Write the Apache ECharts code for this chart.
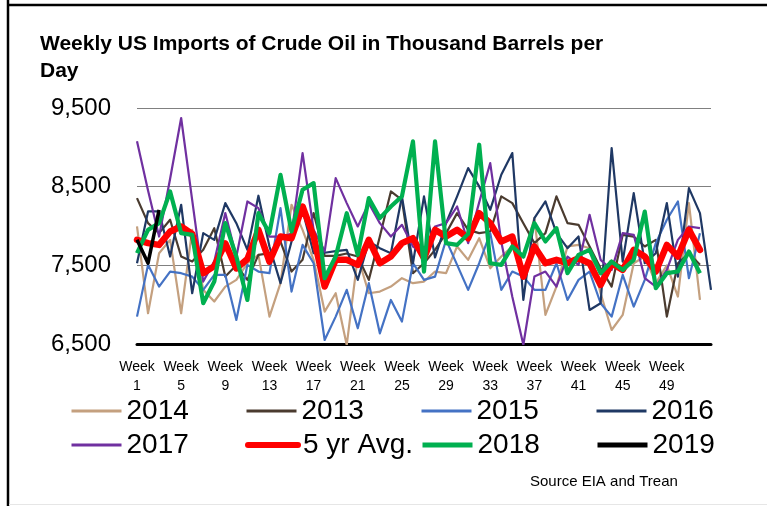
<!DOCTYPE html>
<html>
<head>
<meta charset="utf-8">
<script src="https://cdn.jsdelivr.net/npm/echarts@6/dist/echarts.min.js"></script>
<style>
  html, body { margin: 0; padding: 0; background: #fff; }
  #chart { width: 767px; height: 506px; }
</style>
</head>
<body>
<div id="chart"></div>
<script>
// week numbers on the category axis (53 weeks)
const weeks = []
for (let i = 1; i <= 53; i++) weeks.push('Week\n' + i)

const yTicks = [6500, 7500, 8500, 9500]

const y2014 = [7994, 6891, 7654, 7824, 6891, 7951, 7188, 7040, 7230, 7315, 7527, 7633, 6848, 7273, 8270, 7951, 7570, 6912, 7145, 6487, 7612, 7145, 7166, 7230, 7336, 7273, 7294, 7421, 7400, 7740, 7570, 7845, 7463, 7612, 7740, 7600, 8100, 6869, 7230, 7740, 7760, 7718, 7145, 6678, 6869, 7527, 7612, 7273, 7500, 7103, 8291, 7060]
const y2013 = [8354, 8036, 7909, 8079, 7612, 7548, 7697, 7972, 7357, 7500, 7315, 7633, 7654, 7800, 7421, 7570, 8164, 7620, 7620, 7650, 7612, 7315, 7866, 8439, 8333, 7400, 7527, 7697, 7909, 8164, 7951, 7909, 7930, 8376, 8291, 8036, 7782, 7909, 8376, 8036, 8015, 7740, 7463, 7230, 7888, 7866, 7740, 7824, 6848, 7527, 7654, 7506]
const y2015 = [6848, 7506, 7230, 7421, 7400, 7357, 7188, 7378, 7378, 6806, 7506, 7421, 7400, 8227, 7166, 7760, 7527, 6551, 6848, 7188, 6700, 7273, 6636, 7060, 6785, 7527, 7315, 7357, 7824, 7506, 7188, 7527, 7909, 7188, 7421, 7357, 7188, 7188, 7527, 7060, 7315, 7421, 7018, 6848, 7378, 6976, 7315, 7782, 8079, 8312, 7336, 7909]
const y2016 = [7527, 8185, 8185, 7612, 8270, 7145, 7909, 7824, 8291, 8036, 7697, 8385, 7740, 7273, 7803, 8200, 7654, 7660, 7680, 7697, 7315, 7803, 7718, 7654, 8376, 7527, 8376, 7600, 8036, 8376, 8736, 8503, 8206, 8651, 8927, 7060, 8100, 8312, 7909, 7718, 7866, 6933, 7018, 8991, 7548, 8418, 7527, 7654, 8291, 7357, 8482, 8164, 7188]
const y2017 = [9076, 8450, 7866, 8600, 9373, 8330, 7294, 7550, 8164, 7610, 8312, 8227, 7866, 7866, 7900, 8927, 7951, 7676, 8609, 8291, 7994, 8291, 8036, 7866, 8015, 7740, 7650, 7994, 8036, 8248, 7782, 8300, 8800, 7800, 7100, 6490, 7357, 7421, 7230, 7612, 7506, 8142, 7570, 7442, 7909, 7888, 7336, 7230, 7442, 7824, 7994, 7972]
const avg5 = [7824, 7782, 7760, 7930, 7994, 7900, 7400, 7490, 7780, 7460, 7580, 7951, 7548, 7866, 7845, 8248, 7866, 7230, 7570, 7570, 7506, 7824, 7527, 7612, 7782, 7845, 7590, 7951, 7866, 7951, 7845, 8163, 8036, 7803, 7866, 7357, 7740, 7527, 7570, 7527, 7590, 7527, 7251, 7527, 7442, 7697, 7612, 7421, 7760, 7612, 7951, 7697]
const y2018 = [7654, 7951, 8036, 8439, 7909, 7888, 7018, 7294, 8036, 7612, 7060, 8163, 7909, 8651, 7930, 8460, 8545, 7336, 7612, 8163, 7633, 8354, 8100, 8248, 8376, 9076, 7421, 9076, 7782, 7760, 7900, 9033, 7527, 7506, 7740, 7612, 8036, 7803, 7972, 7400, 7633, 7697, 7400, 7548, 7442, 7570, 8184, 7209, 7400, 7421, 7676, 7400]
const y2019 = [7824, 7527, 8206]

const FONT = '"Liberation Sans", Arial, sans-serif'

const lineSeries = (name, data, color, width, z, cap) => ({
  name,
  type: 'line',
  data,
  symbol: 'none',
  z,
  lineStyle: { color, width, cap: cap || 'butt', join: 'round' },
  itemStyle: { color },
})

// one legend per entry so the entries sit in fixed columns like the original
const legendItem = (name, width, left, top) => ({
  data: [{ name, lineStyle: { width } }],
  left,
  top,
  padding: 0,
  itemWidth: 50,
  itemHeight: 14,
  selectedMode: false,
  itemStyle: { opacity: 0 },
  textStyle: { fontFamily: FONT, fontSize: 28, color: '#000' },
})

const chart = echarts.init(document.getElementById('chart'))

chart.setOption({
  animation: false,
  backgroundColor: '#fff',
  title: {
    text: 'Weekly US Imports of Crude Oil in Thousand Barrels per\nDay',
    left: 40,
    top: 31,
    padding: 0,
    textStyle: { fontFamily: FONT, fontSize: 21, fontWeight: 'bold', color: '#000', lineHeight: 27 },
  },
  grid: { left: 137, right: 56, top: 108, bottom: 162 },
  xAxis: {
    type: 'category',
    data: weeks,
    boundaryGap: false,
    axisTick: { show: false },
    axisLine: { lineStyle: { color: '#000', width: 3 } },
    axisLabel: {
      interval: (i) => i % 4 === 0 && i < 52,
      margin: 14,
      fontFamily: FONT,
      fontSize: 14,
      lineHeight: 19,
      color: '#000',
    },
    splitLine: { show: false },
  },
  yAxis: {
    type: 'value',
    min: yTicks[0],
    max: yTicks[yTicks.length - 1],
    interval: 1000,
    axisLine: { show: false },
    axisTick: { show: false },
    axisLabel: {
      margin: 26,
      fontFamily: FONT,
      fontSize: 24,
      color: '#000',
      formatter: (v) => v.toLocaleString('en-US'),
    },
    splitLine: { lineStyle: { color: '#808080', width: 1.2 } },
  },
  legend: [
    legendItem('2014', 3, 70, 397),
    legendItem('2013', 3, 245, 397),
    legendItem('2015', 3, 420, 397),
    legendItem('2016', 3, 595, 397),
    legendItem('2017', 3, 70, 431),
    legendItem('5 yr Avg.', 6, 245, 431),
    legendItem('2018', 5, 420, 431),
    legendItem('2019', 5, 595, 431),
  ],
  series: [
    lineSeries('2014', y2014, '#C4A07F', 2.2, 2),
    lineSeries('2013', y2013, '#4A3B2F', 2.2, 2),
    lineSeries('2015', y2015, '#4472C4', 2.2, 2),
    lineSeries('2016', y2016, '#1F3864', 2.2, 2),
    lineSeries('2017', y2017, '#7030A0', 2.2, 2),
    lineSeries('5 yr Avg.', avg5, '#FF0000', 6.5, 3, 'round'),
    lineSeries('2018', y2018, '#00B050', 4.2, 4),
    lineSeries('2019', y2019, '#000000', 3.5, 5),
  ],
  graphic: [
    { type: 'line', shape: { x1: 8, y1: 0, x2: 8, y2: 506 }, style: { stroke: '#000', lineWidth: 2.5 } },
    { type: 'line', shape: { x1: 8, y1: 5, x2: 767, y2: 5 }, style: { stroke: '#000', lineWidth: 2.5 } },
    { type: 'line', shape: { x1: 9, y1: 504.5, x2: 767, y2: 504.5 }, style: { stroke: '#e6e6e6', lineWidth: 1 } },
    {
      type: 'text',
      left: 530,
      top: 474,
      style: { text: 'Source EIA and Trean', fontFamily: FONT, fontSize: 15, fill: '#000' },
    },
  ],
})

window.addEventListener('resize', () => chart.resize())
</script>
</body>
</html>
